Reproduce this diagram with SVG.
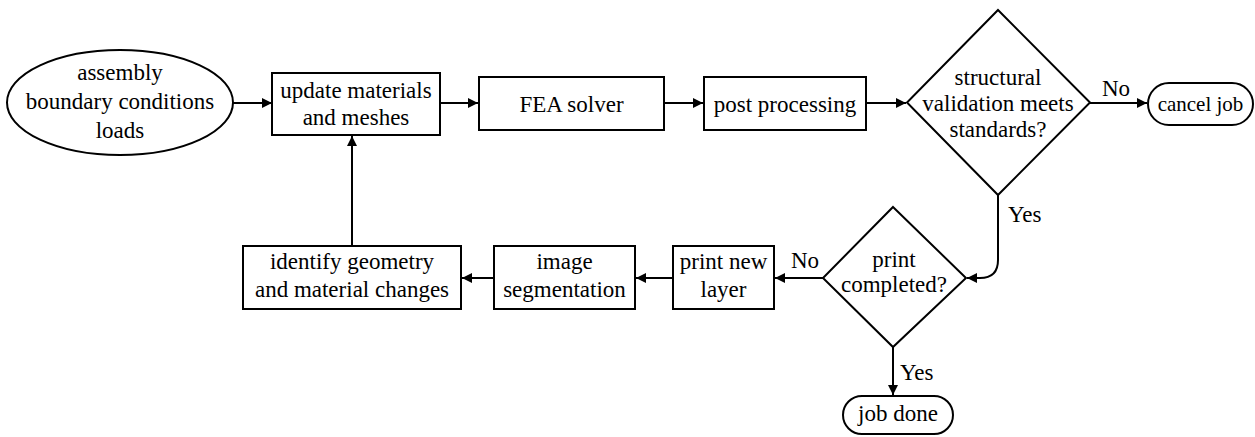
<svg xmlns="http://www.w3.org/2000/svg" width="1255" height="437" viewBox="0 0 1255 437">
<style>
.s{fill:#fff;stroke:#000;stroke-width:2}
.c{fill:none;stroke:#000;stroke-width:2}
text{font-family:'Liberation Serif',Tinos,'Times New Roman',Times,'Noto Serif','DejaVu Serif',serif;font-size:23px;fill:#000;text-anchor:middle}
.l{text-anchor:start}
.n{font-size:21px}
</style>
<defs>
<marker id="a" viewBox="0 0 10 10" refX="10" refY="5" markerWidth="5" markerHeight="5" orient="auto" markerUnits="strokeWidth">
<path d="M0,0 L10,5 L0,10 z" fill="#000"/>
</marker>
</defs>
<g id="connectors">
<path class="c" d="M233,103 L272,103" marker-end="url(#a)"/>
<path class="c" d="M440,103 L478,103" marker-end="url(#a)"/>
<path class="c" d="M664,103 L703,103" marker-end="url(#a)"/>
<path class="c" d="M866,103 L906,103" marker-end="url(#a)"/>
<path class="c" d="M1090,103 L1147,103" marker-end="url(#a)"/>
<path class="c" d="M998,195 L998,260 Q998,278 980,278 L967,278" marker-end="url(#a)"/>
<path class="c" d="M823,278 L775,278" marker-end="url(#a)"/>
<path class="c" d="M673,278 L636,278" marker-end="url(#a)"/>
<path class="c" d="M494,278 L462,278" marker-end="url(#a)"/>
<path class="c" d="M352,246 L352,136" marker-end="url(#a)"/>
<path class="c" d="M893,347 L893,395" marker-end="url(#a)"/>
<text class="l" x="1102" y="96">No</text>
<text class="l" x="1008" y="222">Yes</text>
<text class="l" x="791" y="268">No</text>
<text class="l" x="900" y="380">Yes</text>
</g>
<g id="start">
<ellipse class="s" cx="120" cy="102.5" rx="113" ry="52.5"/>
<text x="120" y="80">assembly</text>
<text x="120" y="109">boundary conditions</text>
<text x="120" y="138">loads</text>
</g>
<g id="update">
<rect class="s" x="272" y="73" width="168" height="62"/>
<text x="356" y="97.5">update materials</text>
<text x="356" y="125">and meshes</text>
</g>
<g id="fea">
<rect class="s" x="479" y="77" width="185" height="53"/>
<text x="571.5" y="112">FEA solver</text>
</g>
<g id="post">
<rect class="s" x="704" y="77" width="162" height="53"/>
<text x="785" y="112">post processing</text>
</g>
<g id="validation">
<polygon class="s" points="998,10 1090,102.5 998,195 907,102.5"/>
<text x="998" y="85">structural</text>
<text x="998" y="111">validation meets</text>
<text x="998" y="137">standards?</text>
</g>
<g id="cancel">
<rect class="s" x="1148" y="83" width="105" height="42" rx="21"/>
<text class="n" x="1200.5" y="111">cancel job</text>
</g>
<g id="printcheck">
<polygon class="s" points="893,207 966,278 893,347 823,278"/>
<text x="894" y="267">print</text>
<text x="894" y="292">completed?</text>
</g>
<g id="done">
<rect class="s" x="843" y="396" width="110" height="38" rx="19"/>
<text x="898" y="421">job done</text>
</g>
<g id="printlayer">
<rect class="s" x="673" y="246" width="101" height="63"/>
<text x="723.5" y="269">print new</text>
<text x="723.5" y="297">layer</text>
</g>
<g id="segmentation">
<rect class="s" x="494" y="246" width="141" height="63"/>
<text x="564.5" y="269">image</text>
<text x="564.5" y="297">segmentation</text>
</g>
<g id="identify">
<rect class="s" x="243" y="246" width="218" height="63"/>
<text x="352" y="269">identify geometry</text>
<text x="352" y="297">and material changes</text>
</g>
</svg>
